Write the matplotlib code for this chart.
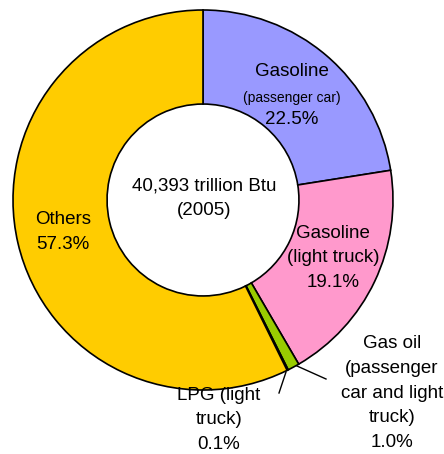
import matplotlib
matplotlib.use("Agg")
import matplotlib.pyplot as plt

# slice data, clockwise from 12 o'clock
labels = ["Gasoline (passenger car)", "Gasoline (light truck)",
          "Gas oil (passenger car and light truck)", "LPG (light truck)", "Others"]
shares = [22.5, 19.1, 1.0, 0.1, 57.3]
colors = ["#9999FF", "#FF99CC", "#99CC00", "#993366", "#FFCC00"]

total_text = "40,393 trillion Btu\n(2005)"

plt.rcParams["font.family"] = ["Liberation Sans", "DejaVu Sans"]

W, H = 444, 454
fig = plt.figure(figsize=(W / 100, H / 100), dpi=100)

# donut centre and radius in pixels (from top-left)
cx, cy, R = 203, 200, 190
ax = fig.add_axes([(cx - R) / W, (H - cy - R) / H, 2 * R / W, 2 * R / H])
ax.axis("off")

ax.pie(shares, colors=colors, startangle=90, counterclock=False, radius=1.0,
       wedgeprops=dict(width=0.495, edgecolor="black", linewidth=1.2))
ax.set_xlim(-1, 1)
ax.set_ylim(-1, 1)
ax.set_aspect("auto")


def px(x, y):
    # pixel position -> data coordinates
    return (x - cx) / R, (cy - y) / R


fs = 13.5
ls = 1.6

ax.text(*px(204, 198), total_text, ha="center", va="center", fontsize=fs,
        linespacing=1.6)

ax.text(*px(292, 72), "Gasoline", ha="center", va="center", fontsize=fs)
ax.text(*px(292, 98), "(passenger car)", ha="center", va="center", fontsize=10)
ax.text(*px(292, 120), f"{shares[0]}%", ha="center", va="center", fontsize=fs)

ax.text(*px(333, 258), f"Gasoline\n(light truck)\n{shares[1]}%", ha="center",
        va="center", fontsize=fs, linespacing=ls)

ax.text(*px(63, 232), f"Others\n{shares[4]}%", ha="center", va="center",
        fontsize=fs, linespacing=ls)

ax.text(*px(392, 393), f"Gas oil\n(passenger\ncar and light\ntruck)\n{shares[2]}%",
        ha="center", va="center", fontsize=fs, linespacing=ls, clip_on=False)
ax.text(*px(219, 420), f"LPG (light\ntruck)\n{shares[3]}%", ha="center",
        va="center", fontsize=fs, linespacing=ls, clip_on=False)

# leader lines
x0, y0 = px(297, 366)
x1, y1 = px(326, 379)
ax.plot([x0, x1], [y0, y1], color="black", lw=1.0, clip_on=False)
x0, y0 = px(286, 372)
x1, y1 = px(279, 393)
ax.plot([x0, x1], [y0, y1], color="black", lw=1.0, clip_on=False)

fig.savefig("out.png", dpi=100)
